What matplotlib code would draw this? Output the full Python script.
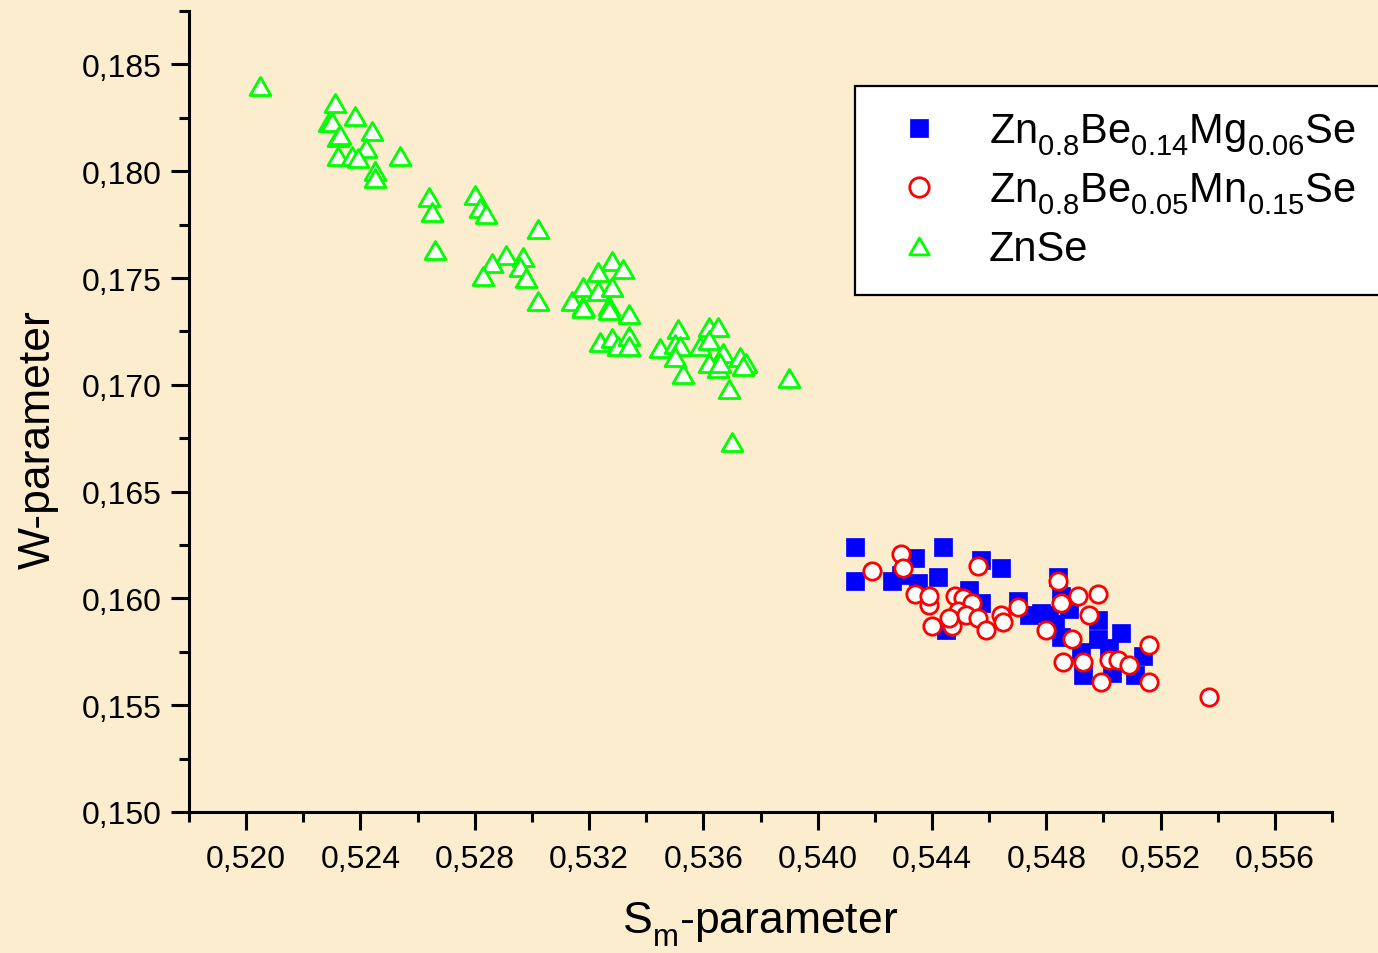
import matplotlib
matplotlib.use("Agg")
import matplotlib.pyplot as plt
from matplotlib import _mathtext
from matplotlib.path import Path
from matplotlib.ticker import FixedLocator, FuncFormatter

plt.rcParams['font.family'] = ['Liberation Sans', 'DejaVu Sans']
plt.rcParams['mathtext.default'] = 'regular'
# drop subscripts a little lower than the mathtext default
for name in ['FontConstantsBase', 'DejaVuSansFontConstants']:
    if hasattr(_mathtext, name):
        getattr(_mathtext, name).sub1 = 0.55

# Zn0.8Be0.14Mg0.06Se
mg_s = [0.5413, 0.5413, 0.5426, 0.5429, 0.5434, 0.5444, 0.5442, 0.5435, 0.5453,
        0.5457, 0.5464, 0.5457, 0.5445, 0.5470, 0.5474, 0.5481, 0.5484, 0.5485,
        0.5485, 0.5493, 0.5492, 0.5498, 0.5498, 0.5506, 0.5502, 0.5503, 0.5514,
        0.5511, 0.5478, 0.5488, 0.5483]
mg_w = [0.1624, 0.1608, 0.1608, 0.1611, 0.1619, 0.1624, 0.1610, 0.1607, 0.1604,
        0.1618, 0.1614, 0.1598, 0.1585, 0.1599, 0.1592, 0.1592, 0.1610, 0.1601,
        0.1582, 0.1564, 0.1575, 0.1590, 0.1581, 0.1584, 0.1577, 0.1565, 0.1573,
        0.1564, 0.1593, 0.1595, 0.1588]

# Zn0.8Be0.05Mn0.15Se
mn_s = [0.5419, 0.5429, 0.5430, 0.5434, 0.5439, 0.5439, 0.5440, 0.5447, 0.5448,
        0.5451, 0.5454, 0.5449, 0.5452, 0.5456, 0.5459, 0.5464, 0.5465, 0.5456,
        0.5470, 0.5446, 0.5484, 0.5485, 0.5491, 0.5498, 0.5495, 0.5480, 0.5489,
        0.5486, 0.5493, 0.5499, 0.5502, 0.5505, 0.5509, 0.5516, 0.5516, 0.5537]
mn_w = [0.1613, 0.1621, 0.1614, 0.1602, 0.1597, 0.1601, 0.1587, 0.1587, 0.1601,
        0.1600, 0.1598, 0.1594, 0.1592, 0.1591, 0.1585, 0.1592, 0.1589, 0.1615,
        0.1596, 0.1591, 0.1608, 0.1598, 0.1601, 0.1602, 0.1592, 0.1585, 0.1581,
        0.1570, 0.1570, 0.1561, 0.1571, 0.1571, 0.1569, 0.1578, 0.1561, 0.1554]

# ZnSe
znse_s = [0.5205, 0.5231, 0.5238, 0.5229, 0.5230, 0.5232, 0.5233, 0.5244, 0.5242,
          0.5232, 0.5237, 0.5239, 0.5254, 0.5245, 0.5245, 0.5264, 0.5265, 0.5280,
          0.5282, 0.5284, 0.5302, 0.5266, 0.5291, 0.5286, 0.5297, 0.5283, 0.5296,
          0.5298, 0.5302, 0.5314, 0.5318, 0.5318, 0.5328, 0.5323, 0.5332, 0.5318,
          0.5323, 0.5328, 0.5327, 0.5327, 0.5334, 0.5324, 0.5328, 0.5330, 0.5334,
          0.5334, 0.5351, 0.5345, 0.5350, 0.5352, 0.5350, 0.5353, 0.5362, 0.5365,
          0.5359, 0.5362, 0.5367, 0.5362, 0.5365, 0.5366, 0.5373, 0.5375, 0.5374,
          0.5369, 0.5390, 0.5370]
znse_w = [0.1840, 0.1832, 0.1826, 0.1823, 0.1823, 0.1816, 0.1817, 0.1819, 0.1811,
          0.1807, 0.1807, 0.1806, 0.1807, 0.1800, 0.1797, 0.1788, 0.1781, 0.1789,
          0.1783, 0.1780, 0.1773, 0.1763, 0.1761, 0.1757, 0.1760, 0.1751, 0.1755,
          0.1750, 0.1739, 0.1739, 0.1737, 0.1736, 0.1758, 0.1753, 0.1754, 0.1746,
          0.1744, 0.1746, 0.1737, 0.1735, 0.1733, 0.1720, 0.1722, 0.1718, 0.1723,
          0.1718, 0.1726, 0.1717, 0.1719, 0.1718, 0.1713, 0.1705, 0.1727, 0.1727,
          0.1718, 0.1721, 0.1715, 0.1710, 0.1708, 0.1710, 0.1713, 0.1710, 0.1709,
          0.1698, 0.1703, 0.1673]

x_ticks = [0.520, 0.524, 0.528, 0.532, 0.536, 0.540, 0.544, 0.548, 0.552, 0.556]
x_minor = [0.518, 0.522, 0.526, 0.530, 0.534, 0.538, 0.542, 0.546, 0.550, 0.554, 0.558]
y_ticks = [0.150, 0.155, 0.160, 0.165, 0.170, 0.175, 0.180, 0.185]
y_minor = [0.1525, 0.1575, 0.1625, 0.1675, 0.1725, 0.1775, 0.1825, 0.1875]

bg = '#FBEDCE'

# equilateral triangle, centred at mid-height
tri = Path([(-1, -0.866), (1, -0.866), (0, 0.866), (-1, -0.866)],
           [Path.MOVETO, Path.LINETO, Path.LINETO, Path.CLOSEPOLY])

fig = plt.figure(figsize=(13.78, 9.54), dpi=100, facecolor=bg)
ax = fig.add_axes([189 / 1378, 1 - 813 / 954, 1143 / 1378, 801 / 954])
ax.set_facecolor(bg)

ax.plot(mg_s, mg_w, ls='none', marker='s', ms=12.5, mfc='#0000FF', mec='#0000FF',
        mew=0.5, label=r'Zn$_{0.8}$Be$_{0.14}$Mg$_{0.06}$Se')
ax.plot(mn_s, mn_w, ls='none', marker='o', ms=12.5, mfc='white', mec='#FF0000',
        mew=2, label=r'Zn$_{0.8}$Be$_{0.05}$Mn$_{0.15}$Se')
ax.plot(znse_s, znse_w, ls='none', marker=tri, ms=15, mfc='white', mec='#00FF00',
        mew=2, label='ZnSe')

ax.set_xlim(0.518, 0.558)
ax.set_ylim(0.150, 0.1875)
ax.xaxis.set_major_locator(FixedLocator(x_ticks))
ax.xaxis.set_minor_locator(FixedLocator(x_minor))
ax.yaxis.set_major_locator(FixedLocator(y_ticks))
ax.yaxis.set_minor_locator(FixedLocator(y_minor))
comma = FuncFormatter(lambda v, pos: f'{v:.3f}'.replace('.', ','))
ax.xaxis.set_major_formatter(comma)
ax.yaxis.set_major_formatter(comma)

for side in ['top', 'right']:
    ax.spines[side].set_visible(False)
for side in ['left', 'bottom']:
    ax.spines[side].set_linewidth(2.2)
ax.tick_params(which='major', direction='out', length=13, width=2.2,
               labelsize=23, pad=7)
ax.tick_params(axis='x', which='major', pad=10)
ax.tick_params(which='minor', direction='out', length=7, width=2.2)

ax.set_xlabel(r'S$_m$-parameter', fontsize=32, va='center')
ax.xaxis.set_label_coords(0.5, -0.14)
ax.set_ylabel('W-parameter', fontsize=32, va='center')
ax.yaxis.set_label_coords(-0.132, 0.466)

leg = ax.legend(loc='upper left',
                bbox_to_anchor=(855 / 1378, 1 - 293 / 954, 540 / 1378, 206 / 954),
                bbox_transform=fig.transFigure, mode='expand', borderaxespad=0,
                fontsize=30, numpoints=1, handlelength=1.85, handletextpad=0.75,
                borderpad=0.61, labelspacing=0.32, fancybox=False, framealpha=1)
leg.get_frame().set_edgecolor('black')
leg.get_frame().set_linewidth(1.6)
for h in leg.legend_handles:
    h.set_markersize(13.5 if h.get_marker() == 's' else 14)

fig.savefig('out.png', dpi=100, facecolor=bg)
